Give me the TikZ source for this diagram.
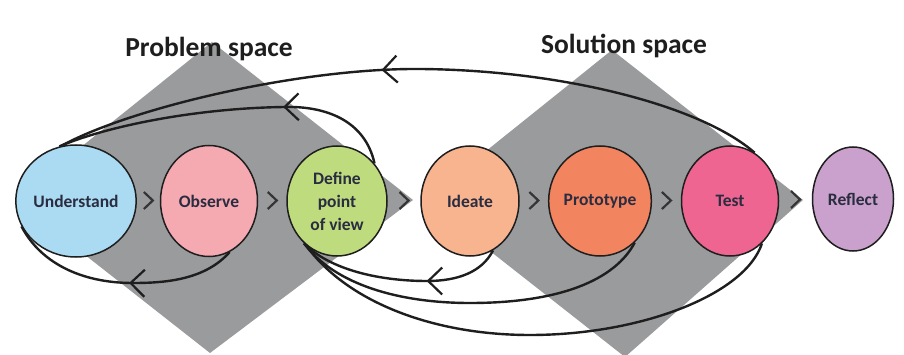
\documentclass[tikz,border=0pt]{standalone}
\usepackage{fontspec}
\setmainfont{Carlito}
\usetikzlibrary{shapes.geometric,arrows.meta,decorations.markings,calc}
\definecolor{cU}{HTML}{ABDBF3}
\definecolor{cO}{HTML}{F5A9B1}
\definecolor{cD}{HTML}{BEDC7E}
\definecolor{cI}{HTML}{F8B48F}
\definecolor{cP}{HTML}{F38460}
\definecolor{cT}{HTML}{EE6591}
\definecolor{cR}{HTML}{C9A1CC}
\definecolor{cG}{HTML}{9A9B9D}
\definecolor{labelc}{HTML}{2A2C40}
\definecolor{inkc}{HTML}{1E1E1E}
\begin{document}
\begin{tikzpicture}[x=1pt,y=-1pt,
  stage/.style={ellipse, draw=inkc, line width=1.5pt, inner sep=0pt,
    font=\bfseries\fontsize{17.5}{23}\selectfont, text=labelc, align=center},
  conn/.style={draw=inkc, line width=2.4pt},
  chev/.style={draw=inkc!90, line width=2.2pt, line join=miter},
  titlec/.style={font=\bfseries\fontsize{27.5}{30}\selectfont, text=inkc},
  arrowat/.style={postaction={decorate}, decoration={markings,
    mark=at position #1 with {\arrow{Straight Barb[length=14pt,width=27pt,line width=2.2pt]}}}}]
\useasboundingbox (0,0) rectangle (904,355);
\fill[white] (0,0) rectangle (904,355);
% background diamonds
\fill[cG] (212,42) -- (413,200) -- (210,353) -- (15,200) -- cycle;
\fill[cG] (612,50) -- (803,200) -- (625,357) -- (425,200) -- cycle;
% titles
\node[titlec] (ps) at (209,49) {Problem space};
\node[titlec] (ss) at (624,46) {Solution space};
% stages
\node[stage, fill=cU, minimum width=100pt, minimum height=112pt] (U) at (76,201) {Understand};
\node[stage, fill=cO, minimum width=97pt, minimum height=111pt] (O) at (209,201) {Observe};
\node[stage, fill=cD, minimum width=100pt, minimum height=110pt] (D) at (337,201) {Define\\point\\of view};
\node[stage, fill=cI, minimum width=98pt, minimum height=110pt] (I) at (470,201) {Ideate};
\node[stage, fill=cP, minimum width=99pt, minimum height=110pt] (P) at (600,201) {Prototype};
\node[stage, fill=cT, minimum width=97pt, minimum height=110pt] (T) at (730,201) {Test};
\node[stage, fill=cR, minimum width=81pt, minimum height=104pt] (R) at (853,199) {Reflect};
% chevrons
\foreach \a/\b in {U/O,O/D,D/I,I/P,P/T,T/R}{
  \draw[chev] ($(\a.east)!0.5!(\b.west)+(-4.5,-9)$) -- ++(9,8.5) -- ++(-9,8.5);
}
% feedback loops
\draw[conn, arrowat=0.54] (T.63) .. controls (700,105) and (560,70) .. (420,69)
   .. controls (300,68) and (130,108) .. (U.105);
\draw[conn, arrowat=0.34] (D.45) .. controls (365,120) and (325,106) .. (285,107)
   .. controls (200,108) and (110,125) .. (U.107);
\draw[conn, arrowat=0.46] (O.-68) .. controls (205,280) and (165,283) .. (133,283)
   .. controls (80,283) and (40,262) .. (U.205);
\draw[conn, arrowat=0.37] (I.-65) .. controls (482,272) and (458,281) .. (427,281)
   .. controls (380,281) and (330,270) .. (D.-128);
\draw[conn] (P.-50) .. controls (615,280) and (560,303) .. (470,303)
   .. controls (400,303) and (335,285) .. (D.-128);
\draw[conn] (T.-53) .. controls (745,295) and (640,335) .. (530,335)
   .. controls (430,335) and (345,300) .. (D.-125);
\end{tikzpicture}
\end{document}
